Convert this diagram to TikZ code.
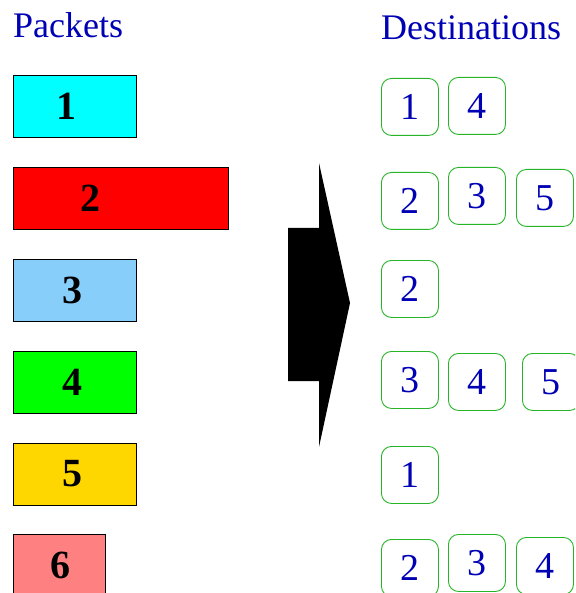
\documentclass[tikz,border=0pt]{standalone}
\usepackage{fontspec}
\setmainfont{Liberation Serif}
\usepackage{xcolor}
\usepackage{tikz}
\usetikzlibrary{positioning}

\definecolor{pktcyan}{RGB}{0,255,255}
\definecolor{pktred}{RGB}{255,0,0}
\definecolor{pktsky}{RGB}{135,206,250}
\definecolor{pktgreen}{RGB}{0,255,0}
\definecolor{pktgold}{RGB}{255,215,0}
\definecolor{pktsalmon}{RGB}{255,128,128}
\definecolor{titleblue}{RGB}{0,0,180}
\definecolor{destgreen}{RGB}{40,180,40}

\begin{document}
\begin{tikzpicture}[
  x=1pt,y=-1pt,
  heading/.style={font=\fontsize{36}{40}\selectfont, text=titleblue,
                  anchor=base west, inner sep=0pt},
  packet/.style={draw=black, line width=0.8pt, minimum height=62pt,
                 anchor=north west, inner sep=0pt},
  pktnum/.style={font=\fontsize{40}{44}\selectfont\bfseries, text=black,
                 inner sep=0pt},
  dest/.style={draw=destgreen, line width=0.9pt, rounded corners=10pt,
               minimum width=57pt, minimum height=57pt, inner sep=0pt,
               anchor=north west, font=\fontsize{38}{42}\selectfont,
               text=titleblue}
]
\clip (0,0) rectangle (575,593);

\node[heading] (packets) at (13,38) {Packets};
\node[heading] (dests) at (381,40) {Destinations};

% packets
\node[packet, fill=pktcyan, minimum width=123pt] (p1) at (13,75) {};
\node[packet, fill=pktred, minimum width=215pt] (p2) at (13,167) {};
\node[packet, fill=pktsky, minimum width=123pt] (p3) at (13,259) {};
\node[packet, fill=pktgreen, minimum width=123pt] (p4) at (13,351) {};
\node[packet, fill=pktgold, minimum width=123pt] (p5) at (13,443) {};
\node[packet, fill=pktsalmon, minimum width=92pt] (p6) at (13,534) {};

\node[pktnum] (n1) at (66,106) {1};
\node[pktnum] (n2) at (90,198) {2};
\node[pktnum] (n3) at (72,290) {3};
\node[pktnum] (n4) at (72,382) {4};
\node[pktnum] (n5) at (72,474) {5};
\node[pktnum] (n6) at (60,565) {6};

% big arrow
\fill[black] (288,228) -- (319,228) -- (319,163) -- (350,303)
  -- (319,447) -- (319,381) -- (288,381) -- cycle;

% destinations
\node[dest] (d11) at (381,78) {1};
\node[dest] (d14) at (448,77) {4};

\node[dest] (d22) at (381,172) {2};
\node[dest] (d23) at (448,167) {3};
\node[dest] (d25) at (516,169) {5};

\node[dest] (d32) at (381,260) {2};

\node[dest] (d43) at (381,351) {3};
\node[dest] (d44) at (448,353) {4};
\node[dest] (d45) at (522,353) {5};

\node[dest] (d51) at (381,446) {1};

\node[dest] (d62) at (381,539) {2};
\node[dest] (d63) at (448,534) {3};
\node[dest] (d64) at (516,537) {4};

\end{tikzpicture}
\end{document}
